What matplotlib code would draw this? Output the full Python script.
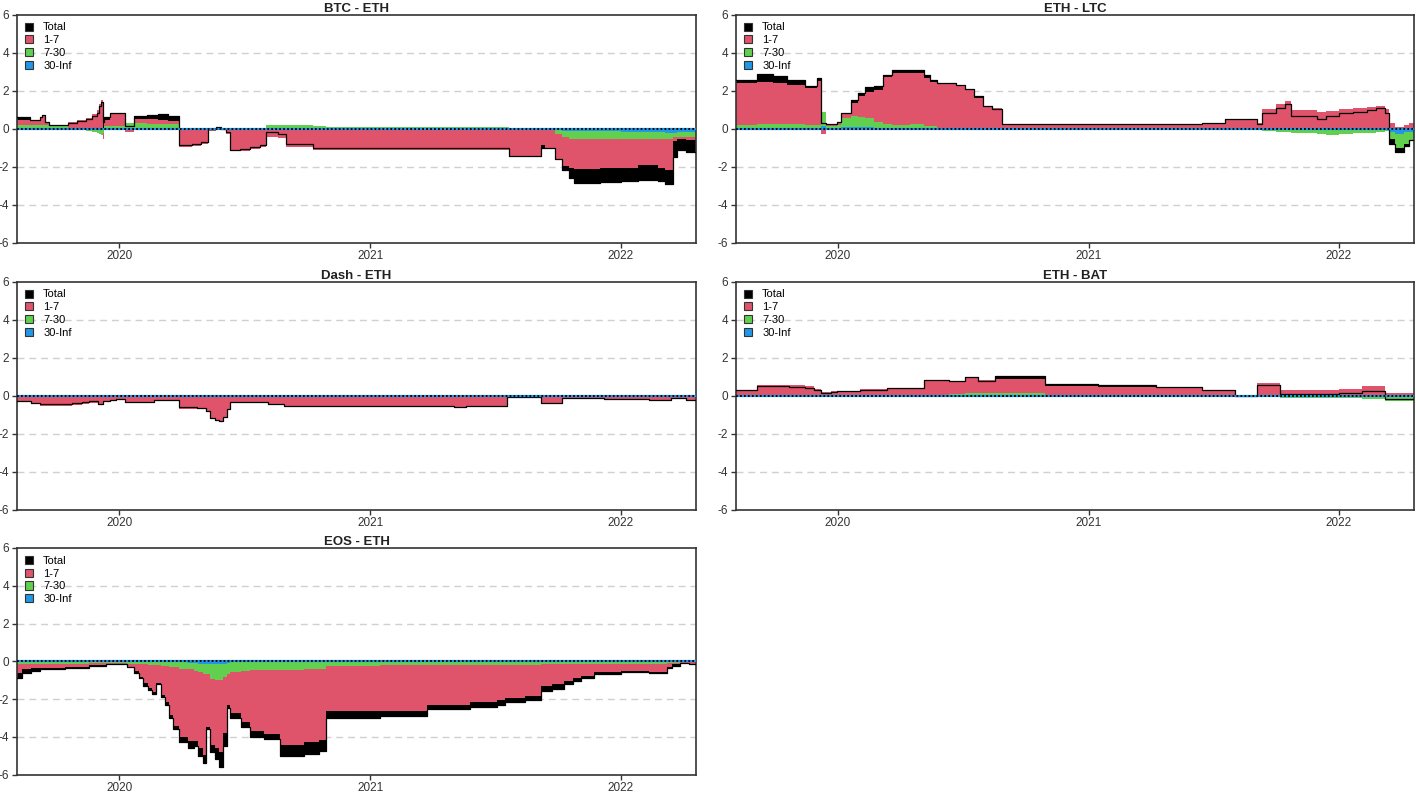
import numpy as np
import matplotlib
matplotlib.use("Agg")
import matplotlib.pyplot as plt
from matplotlib.patches import Patch

plt.rcParams['font.family'] = ['Liberation Sans', 'DejaVu Sans']
plt.rcParams['axes.unicode_minus'] = False

# ---------------- data (days since start date, values) ----------------
START = "2019-08-05"
END_DAY = 990
series_labels = ["Total", "1-7", "7-30", "30-Inf"]
colors = {"Total": "black", "1-7": "#DF536B", "7-30": "#61D04F", "30-Inf": "#2297E6"}
year_ticks = ["2020-01-01", "2021-01-01", "2022-01-01"]
year_labels = ["2020", "2021", "2022"]
panel_titles = ["BTC - ETH", "ETH - LTC", "Dash - ETH", "ETH - BAT", "EOS - ETH"]

# BTC - ETH
btc_eth_t     = [0, 19, 33, 37, 41, 47, 75, 88, 100, 110, 116, 120, 123, 125, 127, 135, 150, 158, 170, 190, 205, 220,
                 236, 255, 268, 278, 290, 298, 305, 311, 325, 340, 355, 363, 380, 392, 431, 451, 718, 764, 770,
                 784, 795, 805, 812, 850, 880, 905, 935, 945, 956, 962, 975]
btc_eth_total = [0.6, 0.45, 0.6, 0.7, 0.35, 0.2, 0.3, 0.4, 0.5, 0.65, 0.85, 1.2, 1.4, 0.35, 0.6, 0.8, 0.85, 0.15, 0.65, 0.7, 0.75, 0.65,
                 -0.85, -0.8, -0.7, 0.0, 0.1, 0.0, -0.2, -1.1, -1.05, -0.95, -0.85, -0.2, -0.3, -0.8, -1.0, -1.0, -1.45, -1.0, -1.0,
                 -1.6, -2.2, -2.6, -2.85, -2.8, -2.75, -2.7, -2.75, -2.9, -1.5, -1.1, -1.25]
btc_eth_f1    = [0.25, 0.2, 0.35, 0.45, 0.15, 0.05, 0.35, 0.45, 0.55, 0.75, 1.0, 1.3, 1.5, -0.3, 0.3, 0.6, 0.65, -0.15, 0.2, 0.25, 0.2, 0.15,
                 -0.98, -0.92, -0.8, -0.1, 0.05, -0.05, -0.3, -1.2, -1.15, -1.05, -0.95, -0.45, -0.5, -0.95, -1.1, -1.12, -1.5, -0.87, -1.0,
                 -1.3, -1.5, -1.55, -1.6, -1.55, -1.5, -1.4, -1.5, -1.6, -0.2, -0.1, -0.15]
btc_eth_f2    = [0.2, 0.2, 0.2, 0.2, 0.15, 0.12, -0.05, -0.05, -0.1, -0.12, -0.2, -0.25, -0.3, -0.2, 0.15, 0.15, 0.15, 0.3, 0.3, 0.25, 0.25, 0.25,
                 0.05, 0.05, 0.05, 0.05, 0.05, 0.05, 0.05, 0.05, 0.05, 0.05, 0.05, 0.2, 0.2, 0.2, 0.15, 0.1, 0.02, 0.0, -0.05,
                 -0.25, -0.35, -0.4, -0.4, -0.4, -0.4, -0.35, -0.35, -0.3, -0.2, -0.25, -0.25]
btc_eth_f3    = [0.02, 0.02, 0.02, 0.02, 0.02, 0.02, -0.03, -0.03, -0.03, -0.03, -0.03, -0.03, -0.03, -0.03, 0.0, 0.0, 0.0, 0.0, 0.0, 0.0, 0.0, 0.0,
                 0.0, 0.0, 0.0, 0.0, 0.0, 0.0, 0.0, 0.0, 0.0, 0.0, 0.0, 0.0, 0.0, 0.0, 0.0, 0.0, 0.0, 0.0, 0.0,
                 -0.05, -0.1, -0.12, -0.13, -0.14, -0.15, -0.17, -0.2, -0.25, -0.25, -0.2, -0.2]

# ETH - LTC
eth_ltc_t     = [0, 31, 54, 74, 101, 118, 124, 131, 148, 154, 168, 178, 188, 201, 214, 228, 254, 274, 284, 294, 321, 334, 348,
                 361, 374, 388, 681, 714, 761, 768, 788, 801, 811, 848, 861, 881, 901, 921, 935, 948, 954, 962, 975, 982]
eth_ltc_total = [2.55, 2.9, 2.75, 2.55, 2.25, 2.65, 0.3, 0.25, 0.35, 0.8, 1.5, 1.9, 2.2, 2.25, 2.8, 3.1, 3.1, 2.8, 2.55, 2.4, 2.3, 2.1, 1.7,
                 1.2, 1.05, 0.25, 0.3, 0.5, 0.25, 0.85, 1.1, 1.3, 0.65, 0.5, 0.65, 0.8, 0.9, 1.0, 1.1, 0.85, -0.8, -1.25, -0.9, -0.6]
eth_ltc_f1    = [2.2, 2.2, 2.15, 2.05, 1.95, 2.3, -0.3, 0.05, 0.1, 0.3, 0.7, 1.1, 1.4, 1.7, 2.45, 2.75, 2.7, 2.55, 2.35, 2.35, 2.25, 2.05, 1.6,
                 1.2, 1.1, 0.25, 0.3, 0.5, 0.3, 1.05, 1.3, 1.45, 1.0, 0.9, 0.95, 1.05, 1.1, 1.15, 1.2, 1.05, 0.3, 0.1, 0.2, 0.3]
eth_ltc_f2    = [0.15, 0.2, 0.2, 0.2, 0.15, 0.15, 0.75, 0.1, 0.15, 0.45, 0.55, 0.5, 0.45, 0.3, 0.2, 0.15, 0.2, 0.1, 0.1, 0.05, 0.05, 0.02, 0.0,
                 -0.05, -0.05, -0.05, -0.03, -0.03, -0.05, -0.1, -0.15, -0.15, -0.2, -0.25, -0.3, -0.25, -0.2, -0.2, -0.15, -0.1, -0.4, -0.7, -0.6, -0.5]
eth_ltc_f3    = [0.05, 0.05, 0.05, 0.05, 0.05, 0.05, 0.15, 0.05, 0.05, 0.1, 0.1, 0.1, 0.1, 0.05, 0.05, 0.05, 0.03, 0.02, 0.02, 0.0, 0.0, 0.0, 0.0,
                 0.0, 0.0, 0.0, 0.0, 0.0, 0.0, -0.03, -0.03, -0.03, -0.03, -0.03, -0.03, -0.03, -0.03, -0.03, -0.03, -0.03, -0.15, -0.3, -0.2, -0.15]

# Dash - ETH
dash_eth_t     = [0, 20, 33, 60, 80, 95, 105, 118, 125, 135, 144, 158, 200, 236, 262, 275, 281, 288, 294, 301, 306, 311,
                  366, 389, 637, 654, 715, 764, 794, 856, 921, 953, 975]
dash_eth_total = [-0.3, -0.4, -0.45, -0.45, -0.4, -0.35, -0.3, -0.45, -0.3, -0.2, -0.15, -0.35, -0.2, -0.6, -0.65, -0.8, -1.15, -1.3, -1.35, -1.1, -0.7, -0.35,
                  -0.45, -0.55, -0.62, -0.55, -0.05, -0.4, -0.1, -0.15, -0.25, -0.1, -0.2]
dash_eth_f1    = [-0.3, -0.4, -0.5, -0.5, -0.45, -0.4, -0.35, -0.45, -0.3, -0.2, -0.15, -0.35, -0.2, -0.65, -0.65, -0.8, -1.15, -1.3, -1.35, -1.1, -0.7, -0.35,
                  -0.45, -0.6, -0.55, -0.6, 0.0, -0.4, -0.12, -0.15, -0.25, -0.12, -0.2]
dash_eth_f2    = [0.0, 0.03, 0.05, 0.05, 0.05, 0.05, 0.0, 0.0, 0.0, 0.0, 0.0, 0.0, 0.0, 0.0, 0.0, 0.0, 0.0, 0.0, 0.0, 0.0, 0.0, 0.0,
                  0.0, 0.02, 0.02, 0.02, 0.0, 0.0, 0.0, 0.0, 0.05, 0.02, 0.0]
dash_eth_f3    = [-0.02, -0.02, -0.02, -0.02, -0.02, -0.02, -0.02, -0.02, -0.02, -0.02, -0.02, -0.05, -0.05, -0.05, -0.03, -0.03, -0.03, -0.03, -0.03, -0.03, -0.03, -0.03,
                  -0.02, -0.02, -0.02, -0.02, -0.05, -0.02, -0.02, -0.02, -0.02, -0.02, -0.02]

# ETH - BAT
eth_bat_t     = [0, 31, 78, 101, 114, 124, 138, 148, 181, 221, 274, 311, 334, 354, 378, 451, 528, 614, 681, 728, 761, 794, 881, 914, 948]
eth_bat_total = [0.3, 0.5, 0.45, 0.4, 0.3, 0.15, 0.2, 0.25, 0.3, 0.4, 0.85, 0.8, 1.0, 0.8, 1.05, 0.6, 0.55, 0.45, 0.3, 0.0, 0.55, 0.1, 0.15, 0.25, -0.15]
eth_bat_f1    = [0.3, 0.55, 0.55, 0.5, 0.35, 0.2, 0.25, 0.25, 0.35, 0.4, 0.75, 0.7, 0.85, 0.7, 0.75, 0.45, 0.45, 0.4, 0.3, 0.05, 0.65, 0.3, 0.35, 0.5, 0.15]
eth_bat_f2    = [0.0, 0.0, -0.05, -0.05, -0.05, -0.05, 0.0, 0.0, 0.0, 0.0, 0.0, 0.05, 0.1, 0.1, 0.1, 0.05, 0.03, 0.02, 0.0, 0.0, -0.05, -0.1, -0.1, -0.12, -0.2]
eth_bat_f3    = [-0.02, -0.02, -0.03, -0.03, -0.03, -0.03, -0.03, -0.03, -0.03, -0.03, -0.02, 0.02, 0.02, 0.02, 0.02, 0.0, 0.0, 0.0, 0.0, -0.05, -0.02, -0.02, -0.02, -0.05, -0.08]

# EOS - ETH
eos_eth_t     = [0, 7, 20, 34, 70, 105, 130, 145, 160, 171, 178, 184, 191, 197, 203, 210, 216, 222, 228, 236, 249, 258, 264, 271,
                 275, 281, 288, 295, 301, 306, 311, 327, 340, 360, 383, 418, 440, 451, 529, 598, 660, 700, 712, 740, 764, 780,
                 797, 810, 823, 842, 880, 921, 947, 955, 966, 980]
eos_eth_total = [-0.9, -0.6, -0.5, -0.4, -0.35, -0.25, -0.12, -0.15, -0.3, -0.6, -0.9, -1.3, -1.5, -1.75, -1.2, -1.9, -2.3, -3.0, -3.6, -4.3, -4.6, -4.5, -5.0, -5.4,
                 -3.6, -4.8, -5.2, -5.6, -4.5, -2.5, -3.0, -3.5, -4.0, -4.1, -5.0, -4.9, -4.75, -3.0, -2.9, -2.55, -2.4, -2.3, -2.15, -2.05, -1.6, -1.45,
                 -1.2, -1.05, -0.9, -0.65, -0.55, -0.6, -0.35, -0.25, -0.1, -0.15]
eos_eth_f1    = [-0.5, -0.3, -0.25, -0.22, -0.2, -0.12, -0.05, -0.1, -0.2, -0.4, -0.65, -1.0, -1.2, -1.4, -0.95, -1.5, -1.9, -2.55, -3.1, -3.6, -3.8, -3.7, -4.0, -4.3,
                 -2.8, -3.5, -3.6, -3.8, -3.0, -1.6, -2.2, -2.7, -3.2, -3.4, -3.95, -3.85, -3.75, -2.35, -2.4, -2.1, -1.95, -1.85, -1.75, -1.65, -1.15, -1.05,
                 -0.9, -0.75, -0.65, -0.45, -0.4, -0.45, -0.2, -0.1, -0.05, -0.08]
eos_eth_f2    = [-0.1, -0.1, -0.1, -0.1, -0.1, -0.08, -0.05, -0.05, -0.1, -0.12, -0.15, -0.15, -0.2, -0.2, -0.2, -0.25, -0.25, -0.3, -0.3, -0.35, -0.35, -0.4, -0.45, -0.5,
                 -0.55, -0.8, -0.85, -0.85, -0.7, -0.6, -0.5, -0.5, -0.45, -0.45, -0.45, -0.4, -0.4, -0.25, -0.2, -0.2, -0.18, -0.18, -0.18, -0.18, -0.15, -0.15,
                 -0.15, -0.12, -0.12, -0.1, -0.1, -0.1, -0.08, -0.05, -0.03, -0.03]
eos_eth_f3    = [-0.02, -0.02, -0.02, -0.02, -0.02, -0.02, -0.02, -0.02, -0.02, -0.02, -0.02, -0.02, -0.02, -0.02, -0.02, -0.02, -0.02, -0.02, -0.02, -0.05, -0.08, -0.1, -0.12, -0.15,
                 -0.15, -0.15, -0.15, -0.15, -0.12, -0.1, -0.05, -0.03, -0.02, -0.02, -0.02, -0.02, -0.02, -0.02, -0.02, -0.02, -0.02, -0.02, -0.02, -0.02, -0.02, -0.02,
                 -0.02, -0.02, -0.02, -0.02, -0.02, -0.02, -0.02, -0.02, -0.02, -0.02]

panels = [
    (btc_eth_t, btc_eth_total, btc_eth_f1, btc_eth_f2, btc_eth_f3),
    (eth_ltc_t, eth_ltc_total, eth_ltc_f1, eth_ltc_f2, eth_ltc_f3),
    (dash_eth_t, dash_eth_total, dash_eth_f1, dash_eth_f2, dash_eth_f3),
    (eth_bat_t, eth_bat_total, eth_bat_f1, eth_bat_f2, eth_bat_f3),
    (eos_eth_t, eos_eth_total, eos_eth_f1, eos_eth_f2, eos_eth_f3),
]

# ---------------- figure ----------------
W, H = 1416, 794
fig = plt.figure(figsize=(W / 100, H / 100), dpi=100)

cols = [(17, 696), (736, 1414)]
rows = [(14.7, 242.7), (281.7, 509.7), (548, 774.5)]
positions = [(0, 0), (0, 1), (1, 0), (1, 1), (2, 0)]

start = np.datetime64(START)
end = start + np.timedelta64(END_DAY, 'D')

for (r, c), title, (t, tot, f1, f2, f3) in zip(positions, panel_titles, panels):
    x0, x1 = cols[c]
    y0, y1 = rows[r]
    ax = fig.add_axes([x0 / W, 1 - y1 / H, (x1 - x0) / W, (y1 - y0) / H])

    tt = np.array(t + [END_DAY])
    dates = start + tt.astype('timedelta64[D]')
    tot_a = np.array(tot + [tot[-1]], float)
    comps = [np.array(s + [s[-1]], float) for s in (f3, f2, f1)]
    ccols = [colors["30-Inf"], colors["7-30"], colors["1-7"]]

    # grid
    for gy in (-4, -2, 2, 4):
        ax.axhline(gy, color="#D0D0D0", lw=1.0, ls=(0, (5, 3.5)), zorder=0)

    # total bars
    ax.fill_between(dates, 0, tot_a, step='post', color='black', lw=0, zorder=1)

    # stacked components (30-Inf nearest zero, then 7-30, then 1-7)
    pos_base = np.zeros_like(tot_a)
    neg_base = np.zeros_like(tot_a)
    for arr, col in zip(comps, ccols):
        p = np.clip(arr, 0, None)
        n = np.clip(arr, None, 0)
        ax.fill_between(dates, pos_base, pos_base + p, step='post', color=col, lw=0, zorder=2)
        ax.fill_between(dates, neg_base, neg_base + n, step='post', color=col, lw=0, zorder=2)
        pos_base = pos_base + p
        neg_base = neg_base + n

    # total line
    ax.step(dates, tot_a, where='post', color='black', lw=0.9, zorder=3)

    # zero line
    ax.axhline(0, color=colors["30-Inf"], lw=1.6, zorder=4)
    ax.axhline(0, color='black', lw=1.3, ls=(0, (1, 1.2)), zorder=5)

    ax.set_xlim(start, end)
    ax.set_ylim(-6, 6)
    ax.set_yticks([-6, -4, -2, 0, 2, 4, 6])
    ax.set_yticklabels(["-6", "-4", "-2", "0", "2", "4", "6"])
    ax.set_xticks([np.datetime64(d) for d in year_ticks])
    ax.set_xticklabels(year_labels)
    ax.tick_params(axis='both', labelsize=8.5, colors='#333333', length=3.5, width=1.0, pad=2)
    ax.tick_params(axis='x', pad=2)
    for sp in ax.spines.values():
        sp.set_color('#333333')
        sp.set_linewidth(1.2)
    ax.set_title(title, fontsize=9.5, fontweight='bold', pad=1.5, color='#222222')

    handles = [Patch(facecolor=colors[k], edgecolor='#333333', lw=0.8) for k in series_labels]
    ax.legend(handles, series_labels, loc='upper left', frameon=False, fontsize=8,
              handlelength=0.75, handleheight=0.75, handletextpad=0.9,
              labelspacing=0.25, borderaxespad=0.4, borderpad=0.3)

fig.savefig("out.png", dpi=100)
